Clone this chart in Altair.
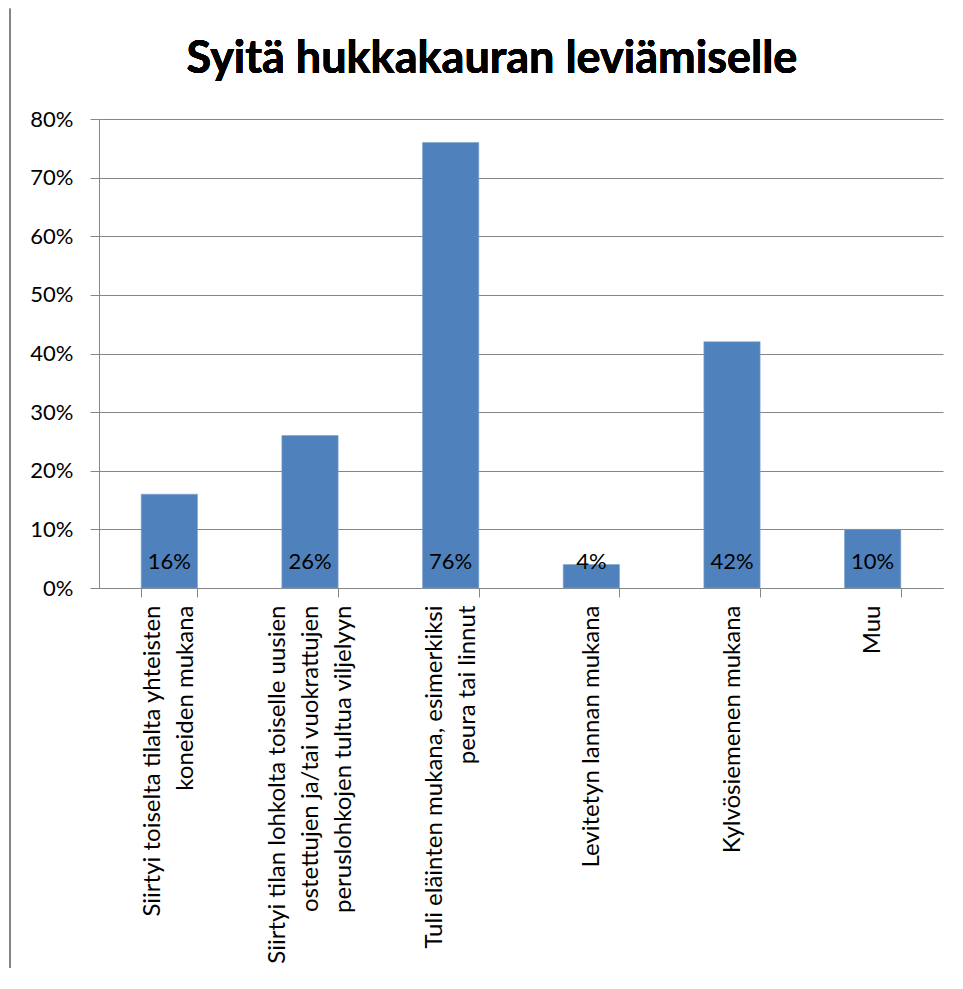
import altair as alt
import pandas as pd

categories = [
    "Siirtyi toiselta tilalta yhteisten\nkoneiden mukana",
    "Siirtyi tilan lohkolta toiselle uusien\nostettujen ja/tai vuokrattujen\nperuslohkojen tultua viljelyyn",
    "Tuli eläinten mukana, esimerkiksi\npeura tai linnut",
    "Levitetyn lannan mukana",
    "Kylvösiemenen mukana",
    "Muu",
]
values = [0.16, 0.26, 0.76, 0.04, 0.42, 0.10]
labels = ["16%", "26%", "76%", "4%", "42%", "10%"]
y_ticks = [0, 0.1, 0.2, 0.3, 0.4, 0.5, 0.6, 0.7, 0.8]
title_text = "Syitä hukkakauran leviämiselle"

FONT = "Lato"
GRID = "#868686"

# rough advance widths (em) of Lato Regular, used only to centre the lines
# of each multi-line category label within its block
_W = {"i": .23, "l": .23, "j": .23, "t": .34, "f": .31, "r": .35, "s": .40,
      " ": .193, "a": .49, "ä": .49, "e": .52, "o": .55, "ö": .55, "m": .83,
      "v": .49, "y": .49, ",": .2, "/": .35, "k": .50}
def _w(s):
    return sum(_W.get(c, .55) for c in s)

def centred(label):
    lines = label.split("\n")
    wmax = max(_w(l) for l in lines)
    out = []
    for l in lines:
        n = int(round((wmax - _w(l)) / 2 / .193))
        out.append(l + "\u00a0" * n)
    return "\n".join(out)

display = [centred(c) for c in categories]

df = pd.DataFrame({"cat": display, "value": values, "label": labels})

LH = 33

x_enc = alt.X(
    "cat:N",
    sort=display,
    title=None,
    scale=alt.Scale(paddingInner=0.6, paddingOuter=0.3),
    axis=alt.Axis(
        labelAngle=270,
        labelAlign="right",
        labelBaseline="middle",
        labelFontSize=24,
        labelFont=FONT,
        labelColor="#000000",
        labelLineHeight=LH,
        labelPadding=8,
        labelLimit=0,
        labelOffset={
            "condition": [
                {"test": "length(split(datum.label, '\\n')) == 3", "value": -LH},
                {"test": "length(split(datum.label, '\\n')) == 2", "value": -LH / 2},
            ],
            "value": 0,
        },
        tickBand="extent",
        tickSize=9,
        tickColor=GRID,
        domainColor=GRID,
        labelExpr="split(datum.label, '\\n')",
    ),
)

y_enc = alt.Y(
    "value:Q",
    title=None,
    scale=alt.Scale(domain=[0, 0.8], nice=False),
    axis=alt.Axis(
        values=y_ticks,
        format=".0%",
        labelFontSize=22,
        labelFont=FONT,
        labelColor="#000000",
        labelPadding=17,
        tickSize=9,
        tickColor=GRID,
        domainColor=GRID,
        gridColor=GRID,
        grid=True,
    ),
)

bars = alt.Chart(df).mark_bar(color="#4F81BD", stroke="#7EA3CF", strokeWidth=0.6).encode(x=x_enc, y=y_enc)

text = alt.Chart(df).mark_text(
    baseline="alphabetic", align="center", dy=-19, fontSize=22, font=FONT, color="#000000"
).encode(x=alt.X("cat:N", sort=display), y=alt.datum(0), text="label:N")

title = alt.Chart(df).mark_text(
    baseline="alphabetic", align="center", fontSize=45, fontWeight="bold", font=FONT,
    color="#000000", strokeWidth=0
).encode(x=alt.value(393), y=alt.value(-46), text=alt.datum(title_text))

frame_left = alt.Chart(df).mark_rule(stroke=GRID, strokeWidth=1.3).encode(
    x=alt.value(-89), y=alt.value(-110.3), y2=alt.value(852)
)

chart = (
    alt.layer(bars, text, title, frame_left)
    .properties(
        width=844,
        height=469,
        padding={"left": 91, "top": 111, "right": 12, "bottom": 380},
        autosize=alt.AutoSizeParams(type="none"),
    )
    .configure_view(stroke=None)
    .configure_axis(gridWidth=1, domainWidth=1, tickWidth=1)
)

chart.save("out.html", embed_options={"renderer": "svg", "actions": False})
